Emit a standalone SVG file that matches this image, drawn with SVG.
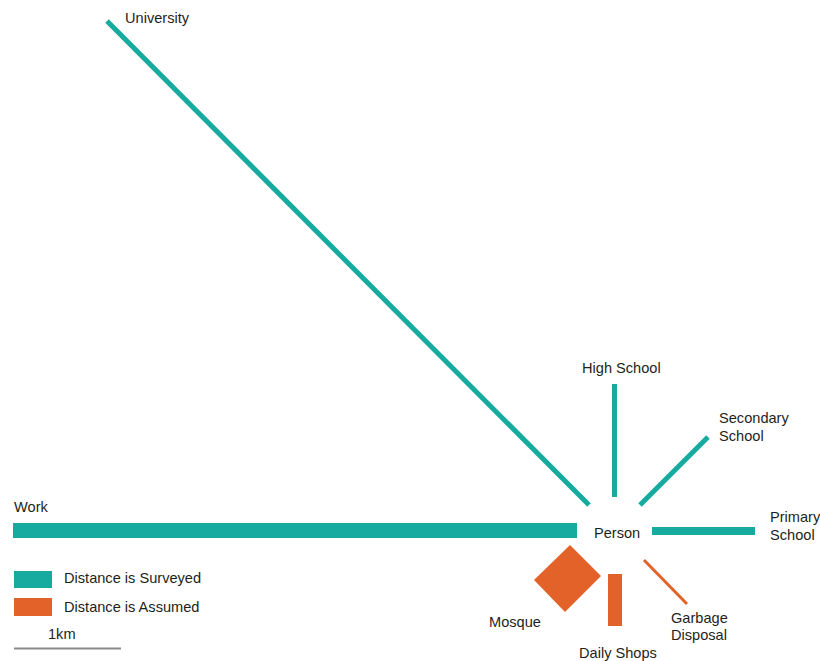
<svg xmlns="http://www.w3.org/2000/svg" width="820" height="661" viewBox="0 0 820 661">
<style>
text{font-family:"Liberation Sans",Arial,sans-serif;font-size:14.6px;fill:#231f20}
.t{stroke:#16ab9e;fill:none}
.tf{fill:#16ab9e}
.o{fill:#e2622a}
.os{stroke:#e2622a;fill:none}
</style>
<rect width="820" height="661" fill="#fff"/>
<g id="connectors">
<line class="t" x1="107" y1="21" x2="589" y2="505" stroke-width="5"/>
<line class="t" x1="614.5" y1="384" x2="614.5" y2="497" stroke-width="5"/>
<line class="t" x1="708" y1="437" x2="640" y2="505" stroke-width="5"/>
<rect class="tf" x="13" y="523" width="564" height="15"/>
<rect class="tf" x="652" y="527" width="103" height="8"/>
<polygon class="o" points="570,545 601,576 565,612 534,580"/>
<rect class="o" x="608" y="574" width="14" height="52"/>
<line class="os" x1="644" y1="560" x2="687" y2="604" stroke-width="3"/>
</g>
<g id="person"><text x="594" y="538">Person</text></g>
<g id="university"><text x="125" y="23">University</text></g>
<g id="highschool"><text x="582" y="373">High School</text></g>
<g id="secondary"><text x="719" y="423">Secondary</text><text x="719" y="441">School</text></g>
<g id="primary"><text x="770" y="522">Primary</text><text x="770" y="540">School</text></g>
<g id="work"><text x="14" y="512">Work</text></g>
<g id="mosque"><text x="489" y="627">Mosque</text></g>
<g id="shops"><text x="579" y="658">Daily Shops</text></g>
<g id="garbage"><text x="671" y="623">Garbage</text><text x="671" y="640">Disposal</text></g>
<g id="legend">
<rect class="tf" x="14" y="571" width="38" height="17"/>
<text x="64" y="583">Distance is Surveyed</text>
<rect class="o" x="14" y="598" width="38" height="18"/>
<text x="64" y="612">Distance is Assumed</text>
<text x="48" y="639">1km</text>
<line x1="14" y1="648.5" x2="121" y2="648.5" stroke="#8a8a8a" stroke-width="2"/>
</g>
</svg>
